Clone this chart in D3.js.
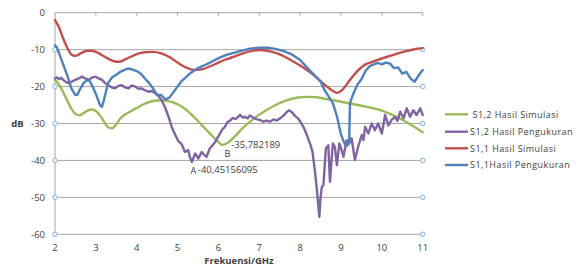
<!DOCTYPE html>
<html><head><meta charset="utf-8">
<script src="https://cdn.jsdelivr.net/npm/d3@7"></script>
<style>
body{margin:0;background:#fff;}
svg text{font-family:"Open Sans","Liberation Sans",sans-serif;fill:#404040;}
</style></head>
<body><svg id="c" width="582" height="266"></svg>
<script>
const seriesNames = ["S1,2 Hasil Simulasi","S1,2 Hasil Pengukuran","S1,1 Hasil Simulasi","S1,1Hasil Pengukuran"];
const seriesColors = ["#9bbb59","#8064a2","#c0504d","#4f81bd"];
const xTicks = [2,3,4,5,6,7,8,9,10,11];
const yTicks = [0,-10,-20,-30,-40,-50,-60];

const s12Sim = [[2.0,-18.2],[2.1,-19.5],[2.2,-21.5],[2.3,-23.8],[2.4,-26],[2.5,-27.4],[2.6,-27.8],[2.7,-27.2],[2.8,-26.5],[2.9,-26.2],[3.0,-26.6],[3.1,-27.8],[3.2,-29.5],[3.3,-31],[3.4,-31.3],[3.5,-30.2],[3.6,-28.6],[3.8,-27],[4.0,-25.8],[4.2,-24.6],[4.4,-23.9],[4.6,-23.7],[4.8,-24],[5.0,-24.8],[5.2,-26.2],[5.4,-28.2],[5.6,-30.5],[5.8,-32.8],[6.0,-35],[6.1,-35.8],[6.2,-35.4],[6.4,-33.5],[6.6,-31.2],[6.8,-29.3],[7.0,-27.6],[7.2,-26.2],[7.4,-25],[7.6,-24],[7.8,-23.3],[8.0,-22.9],[8.2,-22.8],[8.4,-22.9],[8.6,-23.3],[8.8,-23.7],[9.0,-24.1],[9.5,-25.2],[10.0,-26.5],[10.5,-29],[11.0,-32.4]];

const s12Meas = [[2.0,-17.8],[2.05,-17.5],[2.1,-18],[2.15,-17.6],[2.2,-18.2],[2.27,-18.8],[2.35,-19.1],[2.42,-18.6],[2.5,-18.2],[2.58,-17.8],[2.66,-17.3],[2.74,-17.8],[2.83,-18.2],[2.9,-17.6],[2.99,-17.3],[3.07,-17.8],[3.15,-18.2],[3.22,-19],[3.3,-19.6],[3.38,-20.2],[3.47,-20.5],[3.55,-19.8],[3.63,-19.6],[3.71,-20.2],[3.8,-20.5],[3.88,-19.7],[3.96,-20],[4.04,-20.6],[4.12,-20.5],[4.2,-21],[4.29,-21.4],[4.37,-21.2],[4.45,-21.8],[4.53,-22.5],[4.61,-23.7],[4.7,-25.8],[4.78,-28.2],[4.86,-31],[4.94,-33],[5.02,-34.8],[5.1,-35.6],[5.18,-37.7],[5.26,-37.2],[5.3,-39],[5.35,-40.45],[5.43,-38.1],[5.51,-39.5],[5.59,-37.7],[5.65,-38.5],[5.71,-39],[5.79,-36.7],[5.85,-36],[5.92,-35],[5.98,-33.8],[6.04,-32.7],[6.1,-31.5],[6.16,-30.9],[6.22,-29.6],[6.28,-29.3],[6.35,-28.5],[6.42,-28.8],[6.53,-27.7],[6.6,-28.4],[6.65,-28.2],[6.72,-28.6],[6.77,-27.8],[6.85,-28.4],[6.93,-28.8],[7.02,-29.1],[7.1,-29.5],[7.18,-29.2],[7.26,-29.5],[7.35,-28.9],[7.43,-29.2],[7.51,-28.6],[7.6,-27.8],[7.68,-26.8],[7.73,-26.4],[7.8,-27],[7.88,-28],[7.95,-28.6],[8.02,-29.8],[8.08,-30.9],[8.16,-33],[8.24,-35.4],[8.3,-37.5],[8.36,-42.6],[8.41,-48],[8.47,-55.3],[8.5,-50],[8.53,-47.2],[8.57,-46.7],[8.63,-36.7],[8.69,-35.9],[8.73,-45.8],[8.8,-35.4],[8.85,-36.3],[8.9,-41.3],[8.96,-35.4],[9.01,-37],[9.06,-39],[9.14,-34.5],[9.2,-35.5],[9.26,-34],[9.34,-39.9],[9.42,-36.3],[9.51,-33.1],[9.55,-34.5],[9.59,-30.9],[9.67,-32.7],[9.75,-30],[9.83,-31.8],[9.91,-30],[10.0,-32.7],[10.08,-27.7],[10.16,-30.5],[10.24,-29],[10.32,-28.2],[10.38,-29.3],[10.45,-26.8],[10.53,-28.6],[10.61,-25.9],[10.69,-28.2],[10.77,-26.4],[10.85,-27.7],[10.94,-25.9],[11.0,-27.7]];

const s11Sim = [[2.0,-2],[2.1,-4],[2.2,-7],[2.3,-9.5],[2.4,-11.3],[2.5,-11.7],[2.6,-11.2],[2.7,-10.6],[2.8,-10.3],[2.9,-10.3],[3.0,-10.6],[3.2,-11.8],[3.4,-13],[3.5,-13.3],[3.6,-13.2],[3.8,-12.2],[4.0,-11.2],[4.2,-10.7],[4.4,-10.6],[4.6,-11],[4.8,-12],[5.0,-13.5],[5.2,-14.8],[5.4,-15.5],[5.6,-15.3],[5.8,-14.5],[6.0,-13.5],[6.2,-12.6],[6.4,-11.8],[6.6,-11],[6.8,-10.4],[7.0,-10.1],[7.2,-10.3],[7.4,-10.9],[7.6,-11.8],[7.8,-13],[8.0,-14.3],[8.2,-15.8],[8.4,-17.5],[8.6,-19.5],[8.8,-21.2],[8.9,-21.7],[9.0,-21.2],[9.1,-20],[9.2,-18.5],[9.4,-15.8],[9.6,-14],[9.8,-13.2],[10.0,-12.4],[10.2,-11.7],[10.4,-11],[10.6,-10.4],[10.8,-9.9],[11.0,-9.6]];

const s11Meas = [[2.0,-8.8],[2.05,-9.5],[2.1,-11],[2.2,-14],[2.3,-17],[2.4,-20.5],[2.5,-22.3],[2.55,-22.2],[2.6,-21],[2.7,-19],[2.8,-18.2],[2.85,-18.5],[2.9,-19.5],[3.0,-22],[3.1,-25],[3.15,-25.5],[3.2,-23.5],[3.3,-19],[3.4,-17.5],[3.5,-16.8],[3.6,-16],[3.7,-15.5],[3.8,-15.1],[3.9,-15.4],[4.0,-15.8],[4.1,-16.5],[4.2,-17.8],[4.3,-19],[4.4,-20.5],[4.5,-22.3],[4.6,-22.3],[4.7,-23.5],[4.8,-23],[4.9,-21.5],[5.0,-20],[5.1,-18.5],[5.2,-17.5],[5.3,-16.5],[5.4,-15.7],[5.5,-15],[5.6,-14.5],[5.8,-13.5],[6.0,-12.3],[6.2,-11.4],[6.4,-10.8],[6.6,-10.2],[6.8,-9.7],[7.0,-9.5],[7.2,-9.5],[7.4,-9.8],[7.6,-10.4],[7.8,-11.3],[8.0,-12.8],[8.2,-15.2],[8.4,-17.5],[8.5,-18.7],[8.6,-21],[8.7,-22.7],[8.8,-24.5],[8.9,-28],[9.0,-33],[9.1,-35.8],[9.15,-36],[9.2,-35],[9.22,-24.5],[9.3,-22],[9.4,-19.5],[9.5,-18],[9.6,-15.8],[9.7,-14.5],[9.8,-14],[9.9,-13.6],[10.0,-14],[10.1,-13.5],[10.2,-13.8],[10.3,-15],[10.4,-14.8],[10.5,-16.5],[10.6,-16],[10.7,-17.8],[10.8,-18.7],[10.9,-17],[11.0,-15.5]];

const annotations = [
  {f:5.35, v:-40.45156095, letter:"A", text:"-40,45156095"},
  {f:6.12, v:-35.782189, letter:"B", text:"-35,782189"}
];

const svg = d3.select("#c");
const x = d3.scaleLinear().domain([2,11]).range([55,422.7]);
const y = d3.scaleLinear().domain([0,-60]).range([12.7,234.3]);

// gridlines
svg.append("g").selectAll("line").data(yTicks).join("line")
  .attr("x1",x(2)).attr("x2",x(11)).attr("y1",d=>y(d)).attr("y2",d=>y(d))
  .attr("stroke","#a6a6a6").attr("stroke-width",1);
// left axis line
svg.append("line").attr("x1",x(2)).attr("x2",x(2)).attr("y1",y(0)).attr("y2",y(-60))
  .attr("stroke","#a6a6a6").attr("stroke-width",1);
// top tick marks
svg.append("g").selectAll("line").data(xTicks.slice(1)).join("line")
  .attr("x1",d=>x(d)).attr("x2",d=>x(d)).attr("y1",y(0)).attr("y2",y(0)+3)
  .attr("stroke","#a6a6a6");
// circles at gridline ends
const circ = [];
yTicks.filter(d=>d<0).forEach(d=>{circ.push([2,d]);circ.push([11,d]);});
svg.append("g").selectAll("circle").data(circ).join("circle")
  .attr("cx",d=>x(d[0])).attr("cy",d=>y(d[1])).attr("r",2.3)
  .attr("fill","#eef4fa").attr("stroke","#8eb4d8").attr("stroke-width",1);

// y tick labels
svg.append("g").selectAll("text").data(yTicks).join("text")
  .attr("x",45).attr("y",d=>y(d)+3.5).attr("text-anchor","end")
  .attr("font-size",9.5).text(d=>d);
// x tick labels
svg.append("g").selectAll("text").data(xTicks).join("text")
  .attr("x",d=>x(d)).attr("y",250.5).attr("text-anchor","middle")
  .attr("font-size",9.5).text(d=>d);
svg.append("text").attr("x",17.5).attr("y",127).attr("text-anchor","middle")
  .attr("font-size",9.5).attr("font-weight","bold").text("dB");
svg.append("text").attr("x",239).attr("y",264).attr("text-anchor","middle")
  .attr("font-size",9.5).attr("font-weight","bold").text("Frekuensi/GHz");

const lineSmooth = d3.line().x(d=>x(d[0])).y(d=>y(d[1])).curve(d3.curveMonotoneX);
const lineRaw = d3.line().x(d=>x(d[0])).y(d=>y(d[1]));
const data = [s12Sim, s12Meas, s11Sim, s11Meas];
const gens = [lineSmooth, lineRaw, lineSmooth, lineRaw];
[0,1,2,3].forEach(i=>{
  svg.append("path").attr("d",gens[i](data[i])).attr("fill","none")
    .attr("stroke",seriesColors[i]).attr("stroke-width",2.4)
    .attr("stroke-linejoin","round").attr("stroke-linecap","round");
});

// annotations: letter offsets and value-text offsets relative to the point
const letterOff = [[1.5,11.5],[4,12.3]];
const textOff = [[6,11],[8,3]];
annotations.forEach((a,i)=>{
  const px = x(a.f), py = y(a.v);
  svg.append("text").attr("x",px+letterOff[i][0]).attr("y",py+letterOff[i][1])
    .attr("text-anchor","middle").attr("font-size",9).text(a.letter);
  svg.append("text").attr("x",px+textOff[i][0]).attr("y",py+textOff[i][1])
    .attr("font-size",9.5).text(a.text);
});

// legend
const legY = [114.3,131.7,148.3,165];
const lg = svg.append("g");
seriesNames.forEach((n,i)=>{
  lg.append("line").attr("x1",445).attr("x2",468).attr("y1",legY[i]).attr("y2",legY[i])
    .attr("stroke",seriesColors[i]).attr("stroke-width",2.4);
  lg.append("text").attr("x",i===0?472.5:470).attr("y",legY[i]+3.3)
    .attr("font-size",9).attr("letter-spacing",0.45).text(n);
});
</script></body></html>
